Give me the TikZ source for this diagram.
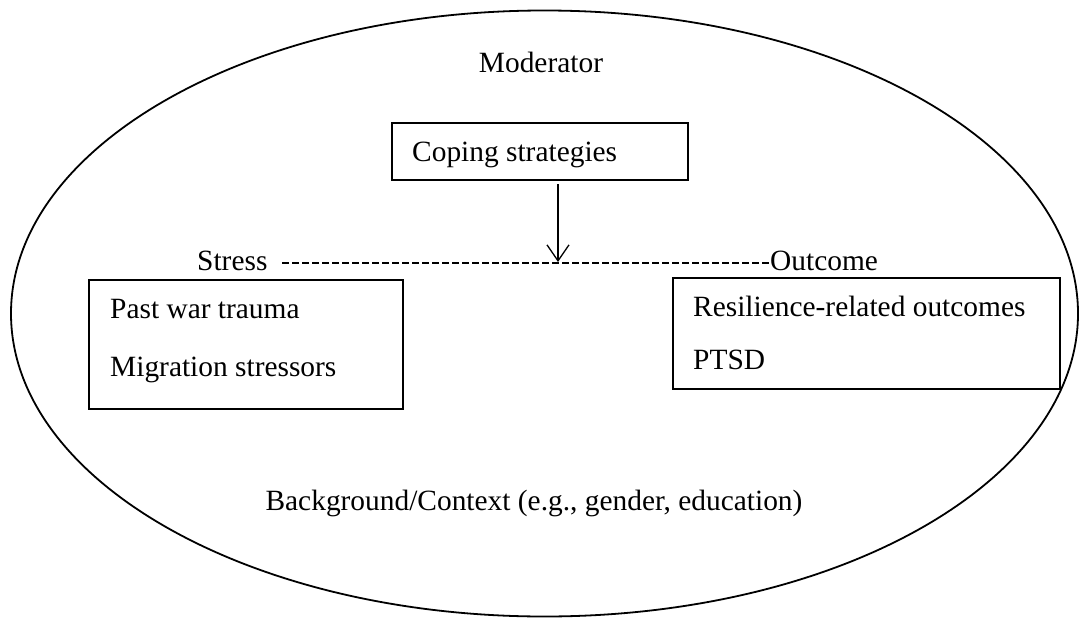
\documentclass[tikz,border=0pt]{standalone}
\usepackage{fontspec}
\setmainfont{Liberation Serif}
\usetikzlibrary{arrows.meta}
\tikzset{
  frame/.style={draw, line width=1.6pt, inner sep=0pt},
  lbl/.style={inner sep=0pt, anchor=base west, font=\fontsize{29.4}{35}\selectfont},
  clbl/.style={inner sep=0pt, anchor=base, font=\fontsize{29.4}{35}\selectfont},
  link/.style={line width=2.2pt, dash pattern=on 7pt off 3pt},
  modarrow/.style={line width=1.3pt, -{Straight Barb[length=16pt,width=22pt,line width=1.3pt]}}
}
\begin{document}
\begin{tikzpicture}[x=1pt,y=-1pt]
\useasboundingbox (0,0) rectangle (1081,618);
\draw[line width=1.8pt] (544.5,313.5) ellipse [x radius=533.5, y radius=303];
\node[clbl] (mod) at (541,73) {Moderator};
\node[frame, minimum width=296pt, minimum height=57pt] (cope) at (540,151.5) {};
\node[lbl] (copet) at (412,161) {Coping strategies};
\node[lbl] (stress) at (197,270) {Stress};
\node[lbl] (outc) at (770,270) {Outcome};
\coordinate (ds) at (282,263);
\coordinate (de) at (769,263);
\draw[link] (ds) -- (de);
\coordinate (atop) at (558,184);
\coordinate (atip) at (558,262);
\draw[modarrow] (atop) -- (atip);
\node[frame, minimum width=314pt, minimum height=129pt] (lbox) at (246,344.5) {};
\node[lbl] (t1) at (110,318) {Past war trauma};
\node[lbl] (t2) at (110,376) {Migration stressors};
\node[frame, minimum width=387pt, minimum height=111pt] (rbox) at (866.5,333.5) {};
\node[lbl] (t3) at (693,316) {Resilience-related outcomes};
\node[lbl] (t4) at (693,369) {PTSD};
\node[clbl] (bg) at (534,510) {Background/Context (e.g., gender, education)};
\end{tikzpicture}
\end{document}
